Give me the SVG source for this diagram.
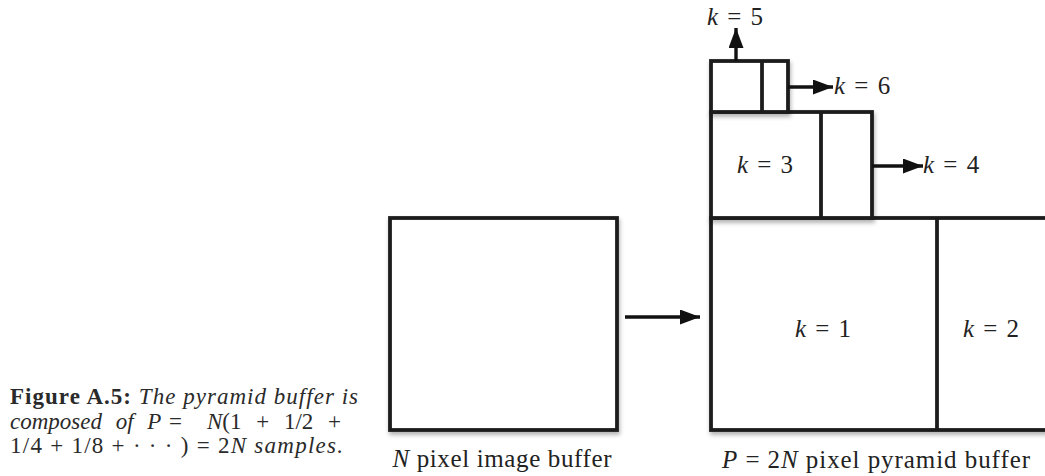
<svg xmlns="http://www.w3.org/2000/svg" width="1045" height="476" viewBox="0 0 1045 476">
<style>
.box{fill:#fff;stroke:#1c1c1c;stroke-width:3.8;filter:url(#sh)}
.ln{fill:none;stroke:#1c1c1c;stroke-width:3.8}
.ar{fill:none;stroke:#111;stroke-width:3.4;marker-end:url(#ah)}
.t{font-family:"Liberation Serif","DejaVu Serif",serif;font-size:25px;fill:#222}
.k{font-size:25px;word-spacing:3px}
.cap{font-family:"Liberation Serif","DejaVu Serif",serif;font-size:23px;fill:#2a2a2a}
.i{font-style:italic}
</style>
<defs>
<filter id="sh" x="-10%" y="-10%" width="130%" height="130%">
<feDropShadow dx="1" dy="3" stdDeviation="2" flood-color="#000" flood-opacity="0.3"/>
</filter>
<marker id="ah" markerUnits="userSpaceOnUse" markerWidth="21" markerHeight="16" refX="20" refY="7.5" orient="auto">
<path d="M0,0 L20,7.5 L0,15 Z" fill="#111"/>
</marker>
</defs>

<g id="image-buffer">
<rect class="box" x="390" y="218" width="227" height="212"/>
<text class="t" x="502" y="467" text-anchor="middle" textLength="219" lengthAdjust="spacing"><tspan class="i">N</tspan> pixel image buffer</text>
</g>

<g id="pyramid-buffer">
<g id="level-1-2">
<rect class="box" x="711" y="218" width="452" height="212"/>
<line class="ln" x1="937" y1="218" x2="937" y2="430"/>
<text class="t k" x="823" y="337" text-anchor="middle"><tspan class="i">k</tspan> = 1</text>
<text class="t k" x="991" y="337" text-anchor="middle"><tspan class="i">k</tspan> = 2</text>
</g>
<g id="level-3-4">
<rect class="box" x="711" y="112" width="161" height="106"/>
<line class="ln" x1="821" y1="112" x2="821" y2="218"/>
<text class="t k" x="765" y="173" text-anchor="middle"><tspan class="i">k</tspan> = 3</text>
</g>
<g id="level-5-6">
<rect class="box" x="711" y="61" width="77" height="51"/>
<line class="ln" x1="762" y1="61" x2="762" y2="112"/>
</g>
<text class="t" x="876" y="468" text-anchor="middle" textLength="308" lengthAdjust="spacing"><tspan class="i">P</tspan> = 2<tspan class="i">N</tspan> pixel pyramid buffer</text>
</g>

<g id="labels">
<text class="t k" x="735" y="25" text-anchor="middle"><tspan class="i">k</tspan> = 5</text>
<text class="t k" x="834" y="94"><tspan class="i">k</tspan> = 6</text>
<text class="t k" x="923" y="173"><tspan class="i">k</tspan> = 4</text>
</g>

<g id="connectors">
<line class="ar" x1="625" y1="317" x2="700" y2="317"/>
<line class="ar" x1="736" y1="61" x2="736" y2="28"/>
<line class="ar" x1="788" y1="87" x2="833" y2="87"/>
<line class="ar" x1="872" y1="166" x2="923" y2="166"/>
</g>

<g id="caption">
<text class="cap" x="10" y="404" textLength="348" lengthAdjust="spacing"><tspan font-weight="bold">Figure A.5:</tspan> <tspan class="i">The pyramid buffer is</tspan></text>
<text class="cap i" x="10" y="429" word-spacing="8">composed of P</text>
<text class="cap" x="169" y="429">=</text>
<text class="cap" x="207" y="429" word-spacing="9"><tspan class="i">N</tspan>(1 + 1/2 +</text>
<text class="cap" x="10" y="453" textLength="333" lengthAdjust="spacing">1/4 + 1/8 + · · · ) = 2<tspan class="i">N samples.</tspan></text>
</g>
</svg>
